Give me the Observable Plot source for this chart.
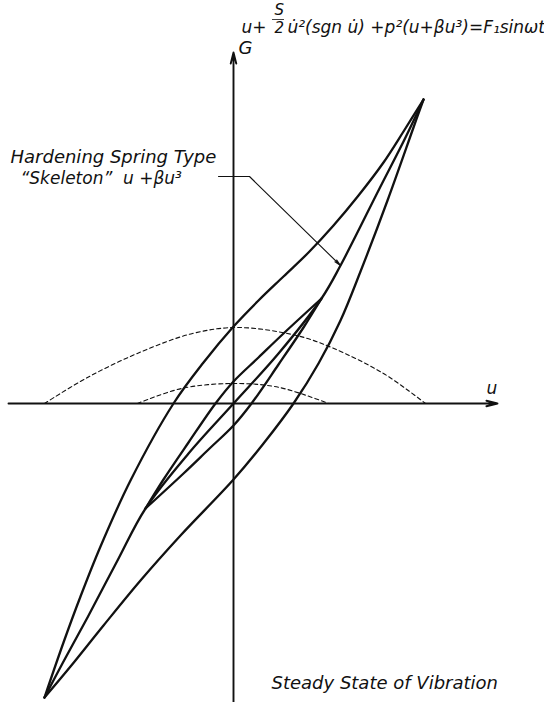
<!DOCTYPE html>
<html>
<head>
<meta charset="utf-8">
<script src="https://cdn.jsdelivr.net/npm/d3@7"></script>
<script src="https://cdn.jsdelivr.net/npm/@observablehq/plot@0.6"></script>
<style>
  html, body { margin: 0; padding: 0; background: #fff; }
  #chart svg { display: block; }
</style>
</head>
<body>
<div id="chart"></div>
<script>
// Outer hysteresis loop (large amplitude), upper branch
const bigUpperU = [-1.89, -1.70, -1.53, -1.33, -1.03, -0.60, -0.30, 0, 0.25, 0.50, 0.75, 1.00, 1.25, 1.50, 1.70, 1.90];
const bigUpperG = [-2.94, -2.39, -1.93, -1.43, -0.77, 0, 0.41, 0.77, 1.03, 1.27, 1.51, 1.78, 2.08, 2.41, 2.72, 3.04];
// Outer hysteresis loop, lower branch
const bigLowerU = [-1.89, -1.63, -1.30, -0.93, -0.53, 0, 0.30, 0.60, 0.85, 1.07, 1.27, 1.54, 1.80, 1.90];
const bigLowerG = [-2.94, -2.63, -2.22, -1.77, -1.32, -0.76, -0.40, 0, 0.40, 0.83, 1.32, 2.03, 2.76, 3.04];
// Hardening spring skeleton curve u + βu³
const skelU = [-1.89, -1.70, -1.46, -1.16, -0.88, -0.45, 0, 0.45, 0.88, 1.07, 1.46, 1.72, 1.90];
const skelG = [-2.94, -2.58, -2.14, -1.57, -1.05, -0.50, 0, 0.50, 1.05, 1.38, 2.15, 2.66, 3.04];
// Inner hysteresis loop (small amplitude)
const smallUpperU = [-0.88, -0.70, -0.45, -0.18, 0, 0.25, 0.50, 0.88];
const smallUpperG = [-1.05, -0.76, -0.39, 0, 0.22, 0.46, 0.70, 1.05];
const smallLowerU = [-0.88, -0.50, -0.25, 0, 0.18, 0.45, 0.70, 0.88];
const smallLowerG = [-1.05, -0.70, -0.46, -0.22, 0, 0.39, 0.76, 1.05];
// Dashed envelopes over each amplitude
const outerEnvU = [-1.89, -1.46, -0.94, -0.41, 0.04, 0.63, 0.98, 1.50, 1.92];
const outerEnvG = [0, 0.26, 0.51, 0.70, 0.76, 0.68, 0.56, 0.30, 0];
const innerEnvU = [-0.96, -0.52, 0, 0.46, 0.95];
const innerEnvG = [0, 0.15, 0.20, 0.16, 0];
// Leader from the label to the skeleton curve
const leaderU = [-0.15, 0.16, 1.07];
const leaderG = [2.27, 2.27, 1.38];

// Labels
const labelEquationLead = "u+";
const labelFracTop = "S";
const labelFracBottom = "2";
const labelEquationRest = "u\u0307\u00b2(sgn u\u0307) +p\u00b2(u+\u03b2u\u00b3)=F\u2081sin\u03c9t";
const labelLine1 = "Hardening Spring Type";
const labelLine2 = "\u201cSkeleton\u201d  u +\u03b2u\u00b3";
const labelFooter = "Steady State of Vibration";
const axisNameX = "u";
const axisNameY = "G";

const rows = (name, us, gs) => us.map((u, i) => ({curve: name, u, G: gs[i]}));
const solid = [
  ...rows("outer upper", bigUpperU, bigUpperG),
  ...rows("outer lower", bigLowerU, bigLowerG),
  ...rows("skeleton", skelU, skelG),
  ...rows("inner upper", smallUpperU, smallUpperG),
  ...rows("inner lower", smallLowerU, smallLowerG)
];
const dashed = [
  ...rows("outer envelope", outerEnvU, outerEnvG),
  ...rows("inner envelope", innerEnvU, innerEnvG)
];
const leader = rows("leader", leaderU, leaderG);

const font = "'DejaVu Sans', 'Liberation Sans', sans-serif";
const ink = "#111";
const txt = (label, text, u, G, size, extra = {}) =>
  Plot.text([{u, G, text}], {
    x: "u", y: "G", text: "text", textAnchor: "start",
    fontFamily: font, fontStyle: "italic", fontSize: size, fill: ink,
    ariaLabel: label, ...extra
  });

const chart = Plot.plot({
  width: 544,
  height: 702,
  margin: 0,
  x: {domain: [-2.33, 3.11], axis: null},
  y: {domain: [-2.99, 4.03], axis: null},
  style: {background: "#fff", fontFamily: font},
  marks: [
    // coordinate axes with arrowheads
    Plot.arrow([{x1: -2.25, y1: 0, x2: 2.64, y2: 0}, {x1: 0, y1: -3.1, x2: 0, y2: 3.51}], {
      x1: "x1", y1: "y1", x2: "x2", y2: "y2",
      stroke: ink, strokeWidth: 1.9, headLength: 9, headAngle: 28
    }),
    Plot.line(dashed, {
      x: "u", y: "G", z: "curve", curve: "catmull-rom",
      stroke: ink, strokeWidth: 1.1, strokeDasharray: "4,3"
    }),
    Plot.line(solid, {
      x: "u", y: "G", z: "curve", curve: "catmull-rom",
      stroke: ink, strokeWidth: 2.3, strokeLinejoin: "round"
    }),
    // leader line to the skeleton
    Plot.line(leader.slice(0, 2), {x: "u", y: "G", stroke: ink, strokeWidth: 1.1}),
    Plot.arrow([{a: leader[1], b: leader[2]}], {
      x1: d => d.a.u, y1: d => d.a.G, x2: d => d.b.u, y2: d => d.b.G,
      stroke: ink, strokeWidth: 1.1, headLength: 9, headAngle: 22
    }),
    // equation of motion
    txt("eq-lead", labelEquationLead, 0.08, 3.76, 17),
    txt("eq-top", labelFracTop, 0.41, 3.93, 15),
    txt("eq-bottom", labelFracBottom, 0.41, 3.75, 15),
    Plot.ruleY([3.84], {x1: 0.39, x2: 0.51, stroke: ink, strokeWidth: 0.8}),
    txt("eq-rest", labelEquationRest, 0.54, 3.76, 17),
    // axis names
    txt("name-y", axisNameY, 0.05, 3.55, 18),
    txt("name-x", axisNameX, 2.53, 0.15, 17),
    // annotations
    txt("line1", labelLine1, -2.23, 2.46, 18),
    txt("line2", labelLine2, -2.13, 2.25, 17),
    txt("footer", labelFooter, 0.38, -2.80, 18)
  ]
});

// fit the lettering to its lengths
const widths = {"eq-rest": 253, "line1": 212, "line2": 157, "footer": 236};
for (const [label, w] of Object.entries(widths)) {
  d3.select(chart).selectAll(`g[aria-label="${label}"] text`)
    .attr("textLength", w).attr("lengthAdjust", "spacingAndGlyphs");
}

document.getElementById("chart").appendChild(chart);
</script>
</body>
</html>
